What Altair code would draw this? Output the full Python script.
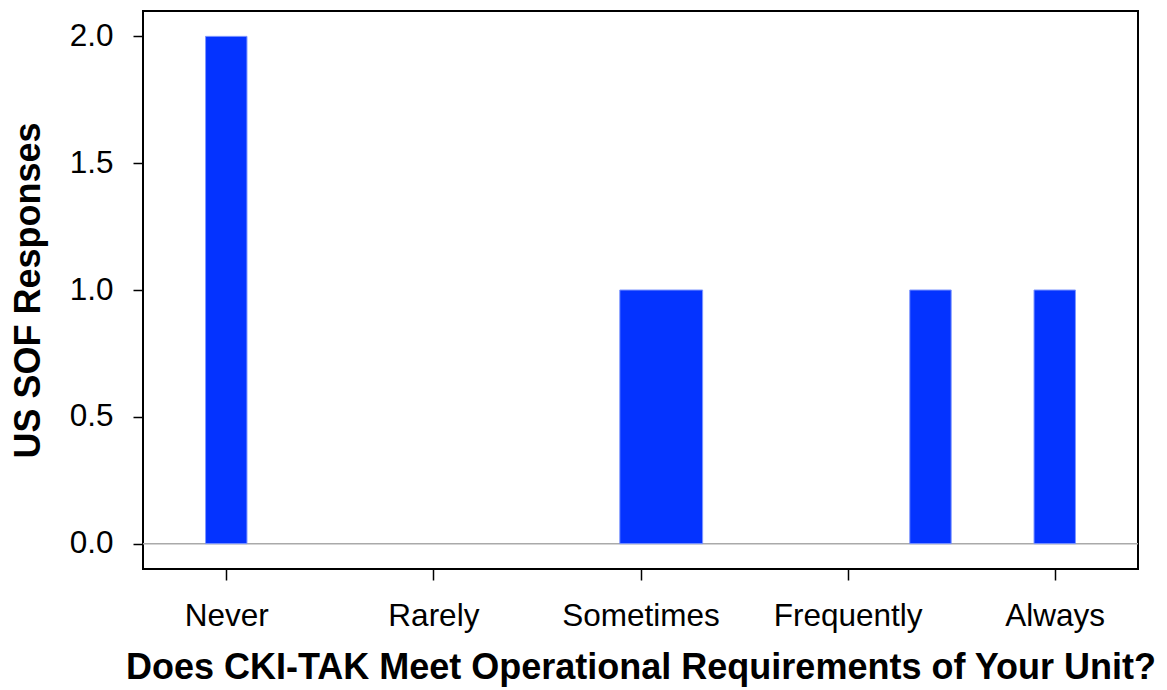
import altair as alt
import pandas as pd

# Histogram-style bars on a 1..5 response scale
bin_start = [0.9, 2.9, 4.3, 4.9]
bin_end = [1.1, 3.3, 4.5, 5.1]
counts = [2, 1, 1, 1]

tick_values = [1, 2, 3, 4, 5]
tick_labels = ["Never", "Rarely", "Sometimes", "Frequently", "Always"]
y_ticks = [0, 0.5, 1.0, 1.5, 2.0]

df = pd.DataFrame({"x0": bin_start, "x1": bin_end, "n": counts})

label_expr = "[" + ",".join(f"'{t}'" for t in tick_labels) + "][datum.value - 1]"

FONT = "Liberation Sans"
W, H = 995, 558

xscale = alt.Scale(domain=[0.598, 5.402], nice=False, zero=False)
yscale = alt.Scale(domain=[-0.1, 2.1], nice=False, zero=False)

bars = alt.Chart(df).mark_bar(color="#0433FF", stroke="#7f97ff", strokeWidth=1).encode(
    x=alt.X("x0:Q", scale=xscale,
            axis=alt.Axis(values=tick_values, labelExpr=label_expr,
                          title="Does CKI-TAK Meet Operational Requirements of Your Unit?",
                          titleFont=FONT, titleFontSize=36, titleFontWeight="bold",
                          titleColor="black", titleBaseline="alphabetic",
                          titleY=109, titleX=W / 2, titleAlign="center",
                          labelFont=FONT, labelFontSize=31.5, labelColor="black",
                          labelBaseline="alphabetic", labelPadding=45,
                          tickSize=11, tickColor="black", tickWidth=1.5,
                          domain=False, grid=False, labelFlush=False)),
    x2="x1:Q",
    y=alt.Y("n:Q", scale=yscale,
            axis=alt.Axis(values=y_ticks, format=".1f",
                          title="US SOF Responses",
                          titleFont=FONT, titleFontSize=36, titleFontWeight="bold",
                          titleColor="black", titleAngle=-90, titleBaseline="alphabetic",
                          titleAlign="center", titleX=-104, titleY=H / 2,
                          labelFont=FONT, labelFontSize=31.5, labelColor="black",
                          labelPadding=20, labelBaseline="middle",
                          tickSize=10, tickColor="black", tickWidth=1.5,
                          domain=False, grid=False, labelFlush=False)),
    y2=alt.datum(0),
)

zero_df = pd.DataFrame({"y": [0]})
zero_line = alt.Chart(zero_df).mark_rule(color="#aaaaaa", strokeWidth=1.5).encode(
    y=alt.Y("y:Q", scale=yscale),
    x=alt.value(0),
    x2=alt.value(W),
)

chart = alt.layer(zero_line, bars).properties(
    width=W, height=H,
    autosize=alt.AutoSizeParams(type="none"),
    padding={"left": 135, "top": 3, "right": 21, "bottom": 120},
    background="white",
).configure_view(stroke="black", strokeWidth=2)

chart.save("out.html", embed_options={"renderer": "svg", "actions": False})
